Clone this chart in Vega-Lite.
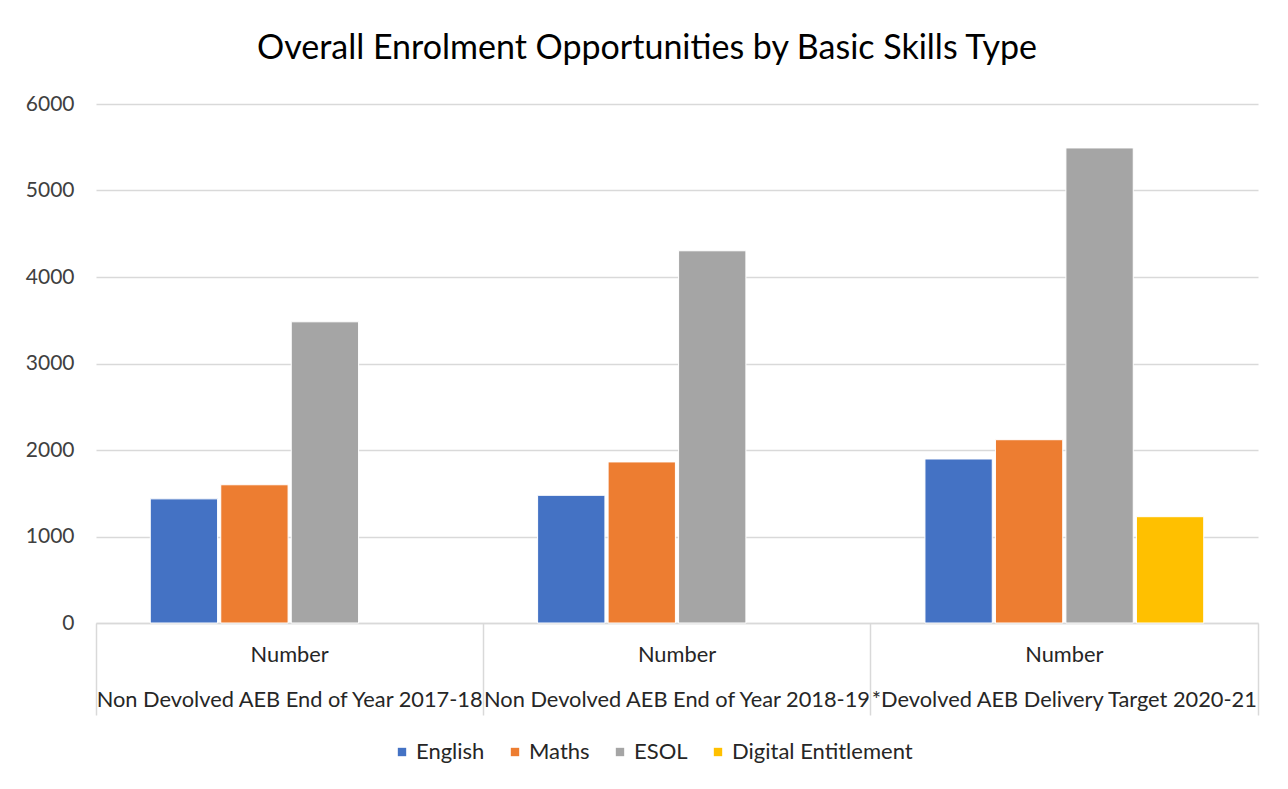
{
  "$schema": "https://vega.github.io/schema/vega-lite/v6.json",
  "autosize": {"type": "none"},
  "width": 1162,
  "height": 519,
  "padding": {"left": 96, "top": 104, "right": 30, "bottom": 166},
  "background": "white",
  "title": {
    "text": "Overall Enrolment Opportunities by Basic Skills Type",
    "font": "Lato",
    "fontSize": 34,
    "fontWeight": "normal",
    "color": "#000000",
    "anchor": "middle",
    "dx": -30,
    "offset": 27
  },
  "data": {
    "values": [
      {"group": "Non Devolved AEB End of Year 2017-18", "series": "English", "value": 1435},
      {"group": "Non Devolved AEB End of Year 2017-18", "series": "Maths", "value": 1598},
      {"group": "Non Devolved AEB End of Year 2017-18", "series": "ESOL", "value": 3482},
      {"group": "Non Devolved AEB End of Year 2018-19", "series": "English", "value": 1476},
      {"group": "Non Devolved AEB End of Year 2018-19", "series": "Maths", "value": 1862},
      {"group": "Non Devolved AEB End of Year 2018-19", "series": "ESOL", "value": 4303},
      {"group": "*Devolved AEB Delivery Target 2020-21", "series": "English", "value": 1896},
      {"group": "*Devolved AEB Delivery Target 2020-21", "series": "Maths", "value": 2119},
      {"group": "*Devolved AEB Delivery Target 2020-21", "series": "ESOL", "value": 5492},
      {"group": "*Devolved AEB Delivery Target 2020-21", "series": "Digital Entitlement", "value": 1229}
    ]
  },
  "mark": {"type": "bar", "stroke": "white", "strokeWidth": 1},
  "encoding": {
    "x": {
      "field": "group",
      "type": "nominal",
      "sort": null,
      "title": null,
      "scale": {"paddingInner": 0, "paddingOuter": 0},
      "axis": {
        "labelAngle": 0,
        "labelExpr": "datum.label ? ['Number', datum.label] : ''",
        "labelLineHeight": 45,
        "labelFont": "Lato",
        "labelFontSize": 21.8,
        "labelColor": "#262626",
        "labelOverlap": false,
        "labelLimit": 0,
        "labelPadding": -71,
        "bandPosition": 1,
        "tickExtra": true,
        "tickSize": 92,
        "tickColor": "#d9d9d9",
        "tickWidth": 1.5,
        "domainColor": "#d9d9d9",
        "domainWidth": 1.5
      }
    },
    "xOffset": {
      "field": "series",
      "type": "nominal",
      "scale": {
        "domain": ["English", "Maths", "ESOL", "Digital Entitlement"],
        "paddingInner": 0.045,
        "paddingOuter": 0.77
      }
    },
    "y": {
      "field": "value",
      "type": "quantitative",
      "title": null,
      "scale": {"domain": [0, 6000], "nice": false},
      "axis": {
        "values": [0, 1000, 2000, 3000, 4000, 5000, 6000],
        "format": "d",
        "domain": false,
        "ticks": false,
        "labelPadding": 22,
        "labelFont": "Lato",
        "labelFontSize": 21,
        "labelColor": "#404040",
        "gridColor": "#d9d9d9",
        "gridWidth": 1.5
      }
    },
    "color": {
      "field": "series",
      "type": "nominal",
      "title": null,
      "scale": {
        "domain": ["English", "Maths", "ESOL", "Digital Entitlement"],
        "range": ["#4472C4", "#ED7D31", "#A5A5A5", "#FFC000"]
      },
      "legend": {
        "orient": "none",
        "legendX": 295,
        "legendY": 637,
        "direction": "horizontal",
        "symbolType": "square",
        "symbolSize": 70,
        "symbolStrokeWidth": 0,
        "labelFont": "Lato",
        "labelFontSize": 22,
        "labelLimit": 0,
        "labelColor": "#262626",
        "labelOffset": 3,
        "columnPadding": 19
      }
    }
  },
  "config": {"view": {"stroke": null}}
}
